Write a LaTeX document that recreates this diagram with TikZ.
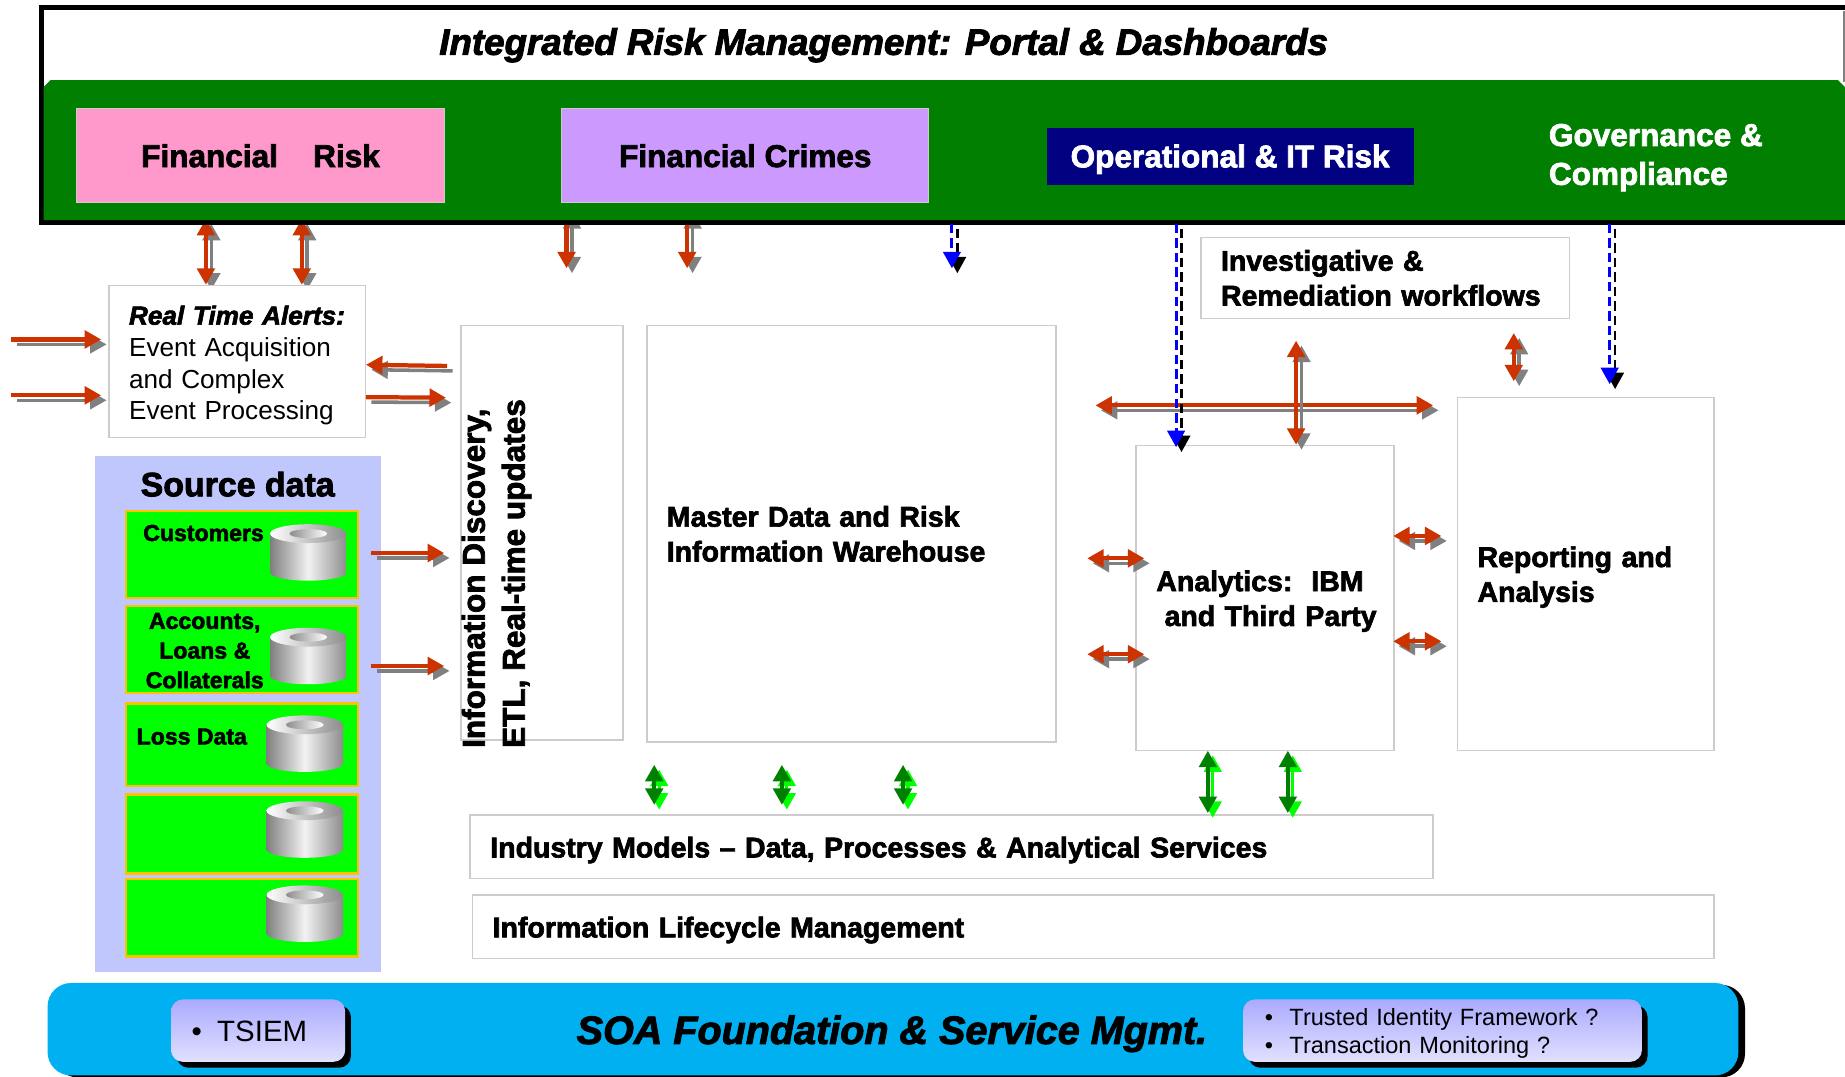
\documentclass[tikz,border=0pt]{standalone}
\usepackage{fontspec}
\setmainfont{Liberation Sans}[BoldFeatures={FakeBold=2.4},BoldItalicFeatures={FakeBold=2.4}]
\usetikzlibrary{arrows.meta,shadows}
\definecolor{bandgreen}{HTML}{007F00}
\definecolor{linkred}{HTML}{CC3300}
\definecolor{linkgrey}{HTML}{808080}
\definecolor{panelgrey}{HTML}{CCCCCC}
\definecolor{sourceblue}{HTML}{BFC7FC}
\definecolor{soablue}{HTML}{00B0F0}
\definecolor{riskpink}{HTML}{FF99CC}
\definecolor{crimepurple}{HTML}{CC99FF}
\definecolor{opnavy}{HTML}{000080}
\definecolor{rowgold}{HTML}{FFC000}
\tikzset{
  >={Triangle[width=7.4pt,length=7pt]},
  redline/.style={line width=1.8pt,draw=linkred,linkred},
  greyline/.style={line width=1.5pt,draw=linkgrey,linkgrey},
  blueline/.style={line width=1.3pt,draw=blue,blue,dash pattern=on 4pt off 2.2pt},
  blackline/.style={line width=1.1pt,draw=black,black,dash pattern=on 4pt off 2.2pt},
  darkline/.style={line width=1.6pt,draw=green!50!black,green!50!black},
  limeline/.style={line width=1.4pt,draw=green,green},
  panel/.style 2 args={draw=panelgrey,line width=.7pt,fill=white,anchor=north west,align=left,
    minimum width=#1pt,minimum height=#2pt,text width=#1pt-17pt,inner xsep=8.5pt,inner ysep=0pt},
  lowered/.style={execute at begin node={\rule{0pt}{11.5pt}}},
  headbox/.style 2 args={anchor=north west,minimum width=#1pt,minimum height=#2pt,inner sep=0pt},
  rowbox/.style={draw=rowgold,line width=1.1pt,fill=green,anchor=north west,minimum width=98.5pt},
  softbox/.style={rounded corners=5pt,top color=blue!33!white,bottom color=blue!12!white,anchor=north west,
    drop shadow={shadow xshift=2.4pt,shadow yshift=-2.5pt,fill=black,opacity=1},inner sep=0pt,
    execute at begin node={\rule{0pt}{9.5pt}}},
  heavy/.style={font=\fontsize{12.1}{14.8}\selectfont\bfseries},
  heading/.style={font=\fontsize{13.4}{16.5}\selectfont\bfseries},
  small/.style={font=\fontsize{9.8}{12.6}\selectfont\bfseries,align=center,inner sep=0pt},
  disk/.pic={
    \shade[left color=gray!100,right color=gray!90,middle color=white!90!gray] (-32.5,0) -- (-32.5,33)
      arc[start angle=180,end angle=360,x radius=16.25pt,y radius=3.5pt] -- (32.5,0) -- cycle;
    \shade[left color=white,right color=gray!90] (0,0) ellipse [x radius=16.25pt,y radius=4pt];
    \shade[left color=gray!90,right color=white] (0,0) ellipse [x radius=8pt,y radius=1.9pt];
  }
}
\newcommand{\redlink}[3]{
  \draw[#1,greyline,transform canvas={shift={(4.6,4.2)}}] (#2) -- (#3);
  \draw[#1,redline] (#2) -- (#3);
}
\newcommand{\greenlink}[2]{
  \draw[<->,limeline,transform canvas={shift={(4.2,4)}}] (#1) -- (#2);
  \draw[<->,darkline] (#1) -- (#2);
}
\newcommand{\bluelink}[2]{
  \draw[->,blackline,transform canvas={shift={(4.6,4.2)}}] (#1) -- (#2);
  \draw[->,blueline] (#1) -- (#2);
}
\begin{document}
\begin{tikzpicture}[x=.5pt,y=-.5pt]
  \useasboundingbox (0,0) rectangle (1568,915.3);
  \fill[white] (0,0) rectangle (1568,915.3);

  % links that run under the portal frame
  \coordinate (fr1top) at (175,186);  \coordinate (fr1low) at (175,242);
  \coordinate (fr2top) at (256.5,186); \coordinate (fr2low) at (256.5,242);
  \coordinate (fc1top) at (481.5,176); \coordinate (fc1low) at (481.5,228);
  \coordinate (fc2top) at (584,176);  \coordinate (fc2low) at (584,228);
  \redlink{<->}{fr1top}{fr1low}
  \redlink{<->}{fr2top}{fr2low}
  \redlink{<->}{fc1top}{fc1low}
  \redlink{<->}{fc2top}{fc2low}

  % portal
  \node[draw=black,line width=2.2pt,fill=white,anchor=north west,minimum width=800pt,minimum height=91.6pt,inner sep=0pt] (portal) at (33,4) {};
  \draw[linkgrey,line width=.7pt] (1567.3,9) -- (1567.3,70);
  \fill[bandgreen] (37,74) -- (43,68) -- (1562,68) -- (1568,74) -- (1568,187) -- (37,187) -- cycle;
  \node[font=\fontsize{15.6}{18}\selectfont\bfseries\itshape] (title) at (751,38.5) {Integrated Risk Management: Portal \& Dashboards};
  \node[headbox={156}{40},fill=riskpink,draw=panelgrey,line width=.4pt] (finrisk) at (65,92) {};
  \node[heading] at (finrisk) {Financial\hspace{15pt}Risk};
  \node[headbox={156}{40},fill=crimepurple,draw=panelgrey,line width=.4pt] (fincrime) at (477,92) {};
  \node[heading] at (fincrime) {Financial Crimes};
  \node[headbox={156}{24.5},fill=opnavy] (oprisk) at (889,108) {};
  \node[heading,white,yshift=-1.2pt] at (oprisk) {Operational \& IT Risk};
  \node[heading,white,align=left,anchor=west,inner sep=0pt] (govern) at (1316,134) {Governance \&\\Compliance};

  % boxes
  \node[panel={109}{64.5},lowered,font=\fontsize{11.1}{13.5}\selectfont] (alerts) at (92,242) {\mbox{\fontsize{11.1}{13.5}\selectfont\bfseries\itshape Real Time Alerts:}\\Event Acquisition\\and Complex\\Event Processing};
  \node[panel={69}{176}] (discovery) at (391,276) {};
  \node[font=\fontsize{13.4}{17}\selectfont\bfseries,rotate=90,align=left,anchor=west,inner sep=0pt] (discoverytext) at (422,636) {Information Discovery,\\ETL, Real-time updates};
  \node[panel={174}{177},heavy] (warehouse) at (549,276) {Master Data and Risk\\Information Warehouse};
  \node[panel={156.5}{34.5},heavy] (workflows) at (1020,201) {Investigative \&\\\mbox{Remediation workflows}};
  \node[panel={109.5}{129.5},heavy,lowered] (analytics) at (965,378) {\mbox{Analytics:\ \ IBM}\\\mbox{\hspace*{3.5pt}and Third Party}};
  \node[panel={109}{150},heavy,lowered] (reporting) at (1238,337) {Reporting and\\Analysis};
  \node[panel={409}{27},heavy,lowered] (models) at (399,692) {Industry Models -- Data, Processes \& Analytical Services};
  \node[panel={527.5}{27},heavy,lowered] (lifecycle) at (401,760) {Information Lifecycle Management};

  % source data
  \node[fill=sourceblue,anchor=north west,minimum width=121.5pt,minimum height=219.5pt,inner sep=0pt] (source) at (80,387) {};
  \node[font=\fontsize{14.4}{17}\selectfont\bfseries,inner sep=0pt] (sourcetitle) at (202,411.5) {Source data};
  \node[rowbox,minimum height=37pt] (row1) at (106,433) {};
  \node[rowbox,minimum height=37pt] (row2) at (106,514) {};
  \node[rowbox,minimum height=35pt] (row3) at (106,597) {};
  \node[rowbox,minimum height=33.5pt] (row4) at (106,674) {};
  \node[rowbox,minimum height=33pt] (row5) at (106,746) {};
  \pic at (262,453.5) {disk};
  \pic at (262,541.5) {disk};
  \pic at (259,616) {disk};
  \pic at (259,689) {disk};
  \pic at (259,760.5) {disk};
  \node[small] (customers) at (173,453) {Customers};
  \node[small] (accounts) at (174,553) {Accounts,\\Loans \&\\Collaterals};
  \node[small] (lossdata) at (163,626) {Loss Data};

  % foundation
  \node[fill=soablue,rounded corners=10pt,anchor=north west,minimum width=718.5pt,minimum height=39.3pt,inner sep=0pt,
    drop shadow={shadow xshift=2.8pt,shadow yshift=-.8pt,fill=black,opacity=1}] (soa) at (40,835) {};
  \node[font=\fontsize{16.8}{19}\selectfont\bfseries\itshape] (soatext) at (758,878.5) {SOA Foundation \& Service Mgmt.};
  \node[softbox,minimum width=74pt,minimum height=26.5pt,font=\fontsize{12.5}{15}\selectfont,text width=63.5pt,align=left] (tsiem) at (145,849) {\hspace*{3.5pt}\textbullet\hspace{6.5pt}TSIEM};
  \node[softbox,minimum width=169.5pt,minimum height=26.5pt,font=\fontsize{10}{12.2}\selectfont,text width=158pt,align=left] (trusted) at (1056,849) {\hspace*{3.5pt}\textbullet\hspace{7pt}Trusted Identity Framework ?\\\hspace*{3.5pt}\textbullet\hspace{7pt}Transaction Monitoring ?};

  % links on the left
  \coordinate (in1a) at (9.5,288.5);  \coordinate (in1b) at (86,288.5);
  \coordinate (in2a) at (9.5,336);    \coordinate (in2b) at (86,336);
  \coordinate (back1) at (380,311);   \coordinate (back2) at (311,310);
  \coordinate (out1) at (311,337.5);  \coordinate (out2) at (379,338);
  \coordinate (cust1) at (315.5,470); \coordinate (cust2) at (377.5,470);
  \coordinate (acct1) at (315.5,566); \coordinate (acct2) at (377.5,566);
  \redlink{->}{in1a}{in1b}
  \redlink{->}{in2a}{in2b}
  \redlink{->}{back1}{back2}
  \redlink{->}{out1}{out2}
  \redlink{->}{cust1}{cust2}
  \redlink{->}{acct1}{acct2}

  % links on the right
  \coordinate (hub1) at (931,344.5);  \coordinate (hub2) at (1218,344.5);
  \coordinate (up1) at (1101.5,289.5); \coordinate (up2) at (1101.5,378);
  \coordinate (rep1) at (1286.5,283); \coordinate (rep2) at (1286.5,324);
  \coordinate (war1) at (924,474.5);  \coordinate (ana1) at (972.5,474.5);
  \coordinate (war2) at (924,556);    \coordinate (ana2) at (972.5,556);
  \coordinate (ana3) at (1184,455.5); \coordinate (rep3) at (1225,455.5);
  \coordinate (ana4) at (1184,545);   \coordinate (rep4) at (1225,545);
  \redlink{<->}{hub1}{hub2}
  \redlink{<->}{up1}{up2}
  \redlink{<->}{rep1}{rep2}
  \redlink{<->}{war1}{ana1}
  \redlink{<->}{war2}{ana2}
  \redlink{<->}{ana3}{rep3}
  \redlink{<->}{ana4}{rep4}

  % dashed links
  \coordinate (dash1a) at (809,190);  \coordinate (dash1b) at (809,228);
  \coordinate (dash2a) at (999.5,190); \coordinate (dash2b) at (999.5,380);
  \coordinate (dash3a) at (1368,190); \coordinate (dash3b) at (1368,326.5);
  \bluelink{dash1a}{dash1b}
  \bluelink{dash2a}{dash2b}
  \bluelink{dash3a}{dash3b}

  % links to the models
  \coordinate (g1a) at (556,650);     \coordinate (g1b) at (556,684);
  \coordinate (g2a) at (664.5,650);   \coordinate (g2b) at (664.5,684);
  \coordinate (g3a) at (767.5,650);   \coordinate (g3b) at (767.5,684);
  \coordinate (g4a) at (1026.5,638);  \coordinate (g4b) at (1026.5,691);
  \coordinate (g5a) at (1094.5,638);  \coordinate (g5b) at (1094.5,691);
  \greenlink{g1a}{g1b}
  \greenlink{g2a}{g2b}
  \greenlink{g3a}{g3b}
  \greenlink{g4a}{g4b}
  \greenlink{g5a}{g5b}
\end{tikzpicture}
\end{document}
